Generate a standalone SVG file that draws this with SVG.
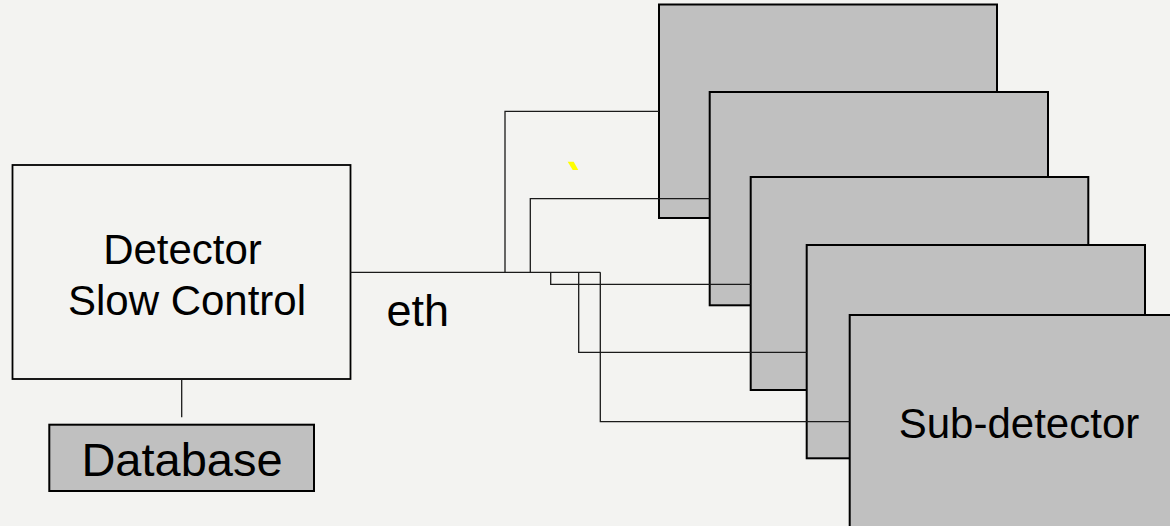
<svg xmlns="http://www.w3.org/2000/svg" width="1170" height="526" viewBox="0 0 1170 526">
<style>
.box{fill:none;stroke:#000;stroke-width:1.8}
.gray{fill:#c0c0c0;stroke:#000;stroke-width:2}
.lbl{font-family:"Liberation Sans",Arial,sans-serif;fill:#000;text-anchor:middle}
.wire{fill:none;stroke:#1a1a1a;stroke-width:1.3}
</style>
<rect width="1170" height="526" fill="#f3f3f1"/>
<g id="dsc">
<rect class="box" x="12.5" y="165" width="338" height="214"/>
<text class="lbl" x="182.5" y="264" font-size="42">Detector</text>
<text class="lbl" x="187" y="315" font-size="42">Slow Control</text>
</g>
<g id="database">
<rect class="gray" x="49.3" y="424.7" width="264.7" height="66.3"/>
<text class="lbl" x="182" y="475.7" font-size="47">Database</text>
</g>
<g id="sub1"><rect class="gray" x="659" y="4.5" width="338" height="213.5"/></g>
<g id="sub2"><rect class="gray" x="709.7" y="92" width="338.3" height="213.3"/></g>
<g id="sub3"><rect class="gray" x="750.7" y="177" width="337.6" height="213"/></g>
<g id="sub4"><rect class="gray" x="806.7" y="245" width="338.3" height="213.3"/></g>
<g id="sub5">
<rect class="gray" x="849.7" y="315" width="338" height="213.5"/>
<text class="lbl" x="1019" y="438.3" font-size="42">Sub-detector</text>
</g>
<g id="connectors">
<path class="wire" d="M181.7,379 V417.3"/>
<path class="wire" d="M350.5,272.3 H600.3"/>
<path class="wire" d="M505,272.3 V111.3 H659"/>
<path class="wire" d="M530.3,272.3 V198.7 H709.7"/>
<path class="wire" d="M550.7,272.3 V284.3 H750.7"/>
<path class="wire" d="M578.7,272.3 V352.3 H806.7"/>
<path class="wire" d="M600.3,272.3 V421.7 H849.7"/>
</g>
<g id="eth-label">
<text x="386.5" y="325.7" font-size="45" font-family="Liberation Sans, Arial, sans-serif" fill="#000">eth</text>
</g>
<polygon points="567.7,161.7 573.7,161.7 578.3,170 572.7,170" fill="#ffff00"/>
</svg>
